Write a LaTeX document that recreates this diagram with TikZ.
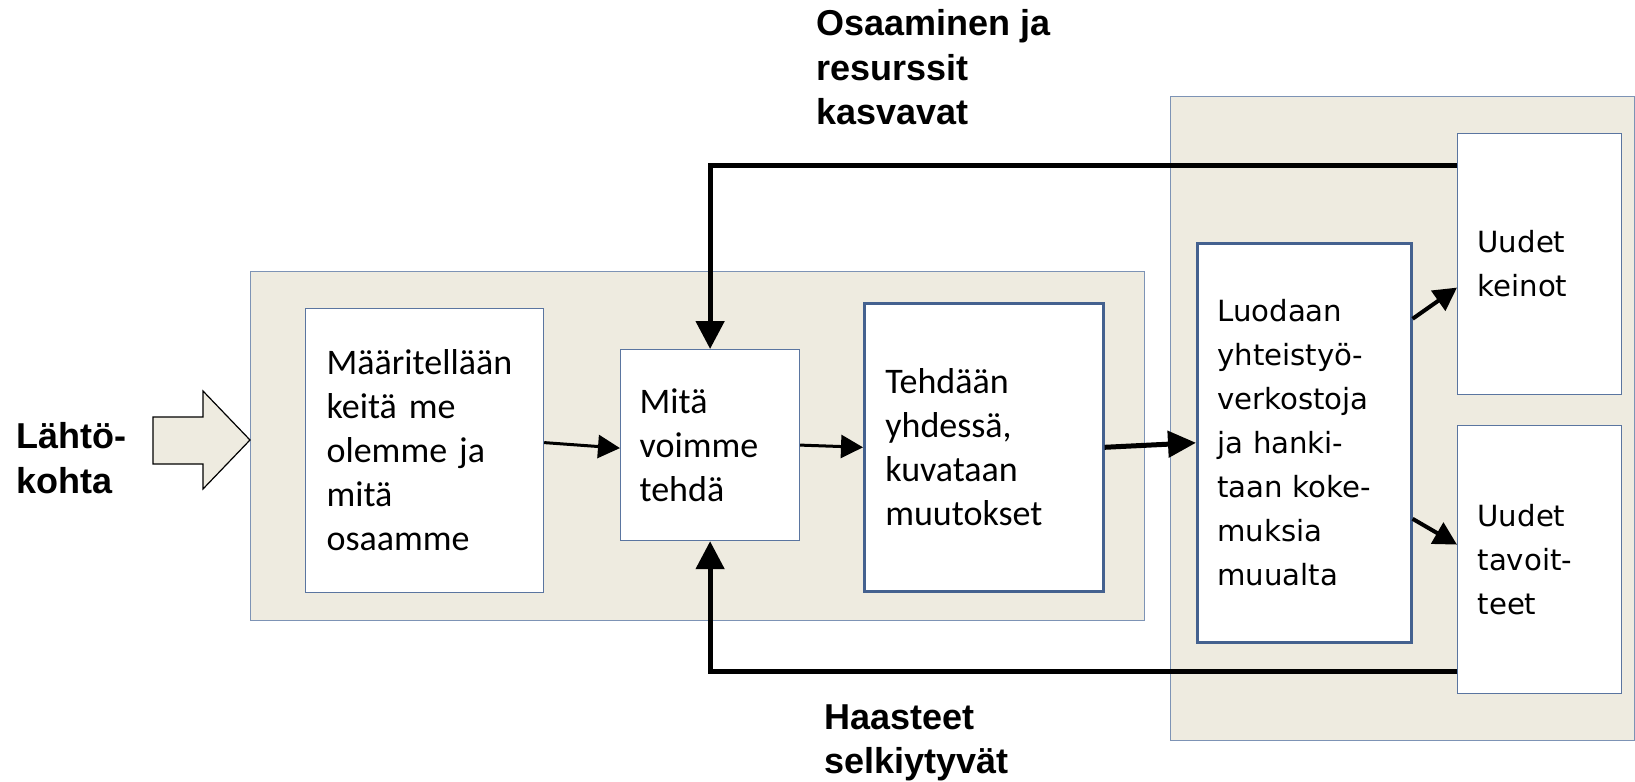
\documentclass[tikz,border=0pt]{standalone}
\usepackage{fontspec}
\setmainfont{Carlito}
\newfontfamily\labfont{Liberation Sans}
\newfontfamily\dvfont{DejaVu Sans}
\usetikzlibrary{arrows.meta}
\definecolor{panelfill}{HTML}{EEEBE0}
\definecolor{panelline}{HTML}{7D93B5}
\definecolor{boxline}{HTML}{5A75A0}
\definecolor{boxthick}{HTML}{44618F}
\begin{document}
\begin{tikzpicture}[x=0.5pt,y=-0.5pt,
  panel/.style={draw=panelline, fill=panelfill, line width=0.7pt, anchor=north west, inner sep=0pt},
  box/.style={draw=boxline, fill=white, line width=0.6pt, anchor=north west, inner ysep=0pt, align=left},
  thickbox/.style={box, draw=boxthick, line width=1.3pt},
  cal/.style={font=\fontsize{18}{22}\selectfont},
  dv/.style={font=\dvfont\fontsize{14.6}{22}\selectfont},
  lab/.style={font=\labfont\bfseries\fontsize{18}{22.3}\selectfont, anchor=north west, inner sep=0pt, align=left},
  fb/.style={line width=2.5pt, -{Triangle[length=14pt,width=14pt]}},
  thin/.style={line width=1.5pt, -{Triangle[length=11pt,width=11.5pt]}},
  mid/.style={line width=2pt, -{Triangle[length=11.5pt,width=12pt]}},
  big/.style={line width=2.5pt, -{Triangle[length=14pt,width=13pt]}},
]
\useasboundingbox (0,0) rectangle (1635,782);

% panels
\node[panel, minimum width=447pt, minimum height=174.5pt] (p1) at (250,271) {};
\node[panel, minimum width=232pt, minimum height=322pt] (p2) at (1170,96) {};

% block arrow (start)
\draw[fill=panelfill, line width=0.6pt, line join=miter]
  (153,417) -- (203,417) -- (203,391) -- (250,440) -- (203,489) -- (203,464) -- (153,464) -- cycle;

% boxes
\node[box, cal, inner xsep=10.5pt, minimum width=119pt, text width=98pt, minimum height=142pt] (b1) at (305,308)
  {Määritellään\\keitä me\\olemme ja\\mitä\\osaamme};
\node[box, cal, inner xsep=9.5pt, minimum width=89.5pt, text width=70.5pt, minimum height=95.5pt] (b2) at (620,349)
  {Mitä\\voimme\\tehdä};
\node[thickbox, cal, inner xsep=10.5pt, minimum width=119.5pt, text width=98.5pt, minimum height=144pt] (b3) at (863,302)
  {Tehdään\\yhdessä,\\kuvataan\\muutokset};
\node[thickbox, dv, inner xsep=10pt, minimum width=107pt, text width=87pt, minimum height=199.5pt] (b4) at (1196,242)
  {Luodaan\\yhteistyö-\\verkostoja\\ja hanki-\\taan koke-\\muksia\\muualta};
\node[box, dv, inner xsep=10pt, minimum width=82pt, text width=62pt, minimum height=130.5pt] (b5) at (1457,133)
  {Uudet\\keinot};
\node[box, dv, inner xsep=10pt, minimum width=82pt, text width=62pt, minimum height=134pt] (b6) at (1457,425)
  {Uudet\\tavoit-\\teet};

% labels
\node[lab] (l1) at (816,9) {Osaaminen ja\\resurssit\\kasvavat};
\node[lab] (l2) at (824,704) {Haasteet\\selkiytyvät};
\node[lab] (l3) at (16,422) {Lähtö-\\kohta};

% connectors
\draw[thin] ([yshift=4pt]b1.east) -- ([yshift=-1.5pt]b2.west);
\draw[thin] (b2.east) -- (b3.west);
\draw[big] (b3.east) -- (b4.west);
\draw[mid] ([yshift=62pt]b4.east) -- ([yshift=-11.75pt]b5.west);
\draw[mid] ([yshift=-38pt]b4.east) -- ([yshift=7.5pt]b6.west);
\path (b5.north west) ++(0,32) coordinate (t1);
\path (b6.south west) ++(0,-23) coordinate (t2);
\draw[fb] (t1) -| (b2.north);
\draw[fb] (t2) -| (b2.south);
\end{tikzpicture}
\end{document}
